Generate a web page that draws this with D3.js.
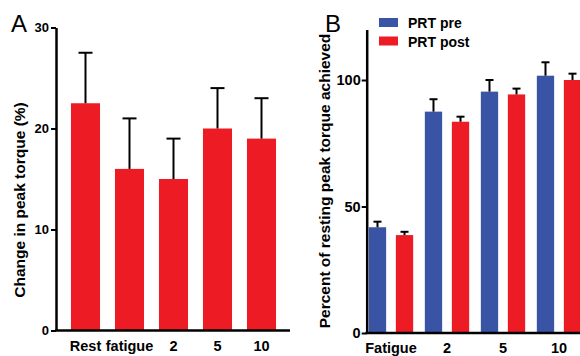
<!DOCTYPE html>
<html>
<head>
<meta charset="utf-8">
<script src="https://cdn.jsdelivr.net/npm/d3@7"></script>
<style>
  body { margin: 0; background: #fff; }
  svg { display: block; font-family: "Liberation Sans", Arial, sans-serif; }
  .tick text { font-weight: bold; }
</style>
</head>
<body>
<div class="chart"></div>
<script>
// Panel A data
var catsA = ["Rest", "fatigue", "2", "5", "10"];
var meanA = [22.5, 16.0, 15.0, 20.0, 19.0];
var errA = [5.0, 5.0, 4.0, 4.0, 4.0];
var ticksA = [0, 10, 20, 30];

// Panel B data
var catsB = ["Fatigue", "2", "5", "10"];
var seriesB = ["PRT pre", "PRT post"];
var preB = [41.8, 87.5, 95.4, 101.7];
var preErrB = [2.2, 4.9, 4.6, 5.3];
var postB = [38.7, 83.5, 94.3, 100.0];
var postErrB = [1.3, 2.0, 2.3, 2.5];
var ticksB = [0, 50, 100];

var red = "#ed1c24";
var blue = "#3a54a5";

var svg = d3.select(".chart")
    .append("svg")
    .attr("width", 580)
    .attr("height", 356);

// ---------- Panel A ----------
var gA = svg.append("g");

var xA = d3.scaleBand()
    .domain(catsA)
    .range([63.5, 283.5])
    .paddingInner(0.34)
    .paddingOuter(0.17);

var yA = d3.scaleLinear()
    .domain([0, 30])
    .range([330.5, 27.5]);

gA.selectAll("rect.bar")
    .data(catsA)
    .enter()
    .append("rect")
    .attr("class", "bar")
    .attr("x", function(d) { return xA(d); })
    .attr("width", xA.bandwidth())
    .attr("y", function(d, i) { return yA(meanA[i]); })
    .attr("height", function(d, i) { return yA(0) - yA(meanA[i]); })
    .attr("fill", red);

// error bars A
gA.selectAll("line.err")
    .data(catsA)
    .enter()
    .append("line")
    .attr("class", "err")
    .attr("x1", function(d) { return xA(d) + xA.bandwidth() / 2; })
    .attr("x2", function(d) { return xA(d) + xA.bandwidth() / 2; })
    .attr("y1", function(d, i) { return yA(meanA[i]); })
    .attr("y2", function(d, i) { return yA(meanA[i] + errA[i]); })
    .attr("stroke", "#000")
    .attr("stroke-width", 2);

gA.selectAll("line.cap")
    .data(catsA)
    .enter()
    .append("line")
    .attr("class", "cap")
    .attr("x1", function(d) { return xA(d) + xA.bandwidth() / 2 - 7; })
    .attr("x2", function(d) { return xA(d) + xA.bandwidth() / 2 + 7; })
    .attr("y1", function(d, i) { return yA(meanA[i] + errA[i]); })
    .attr("y2", function(d, i) { return yA(meanA[i] + errA[i]); })
    .attr("stroke", "#000")
    .attr("stroke-width", 2);

var leftA = gA.append("g")
    .attr("transform", "translate(56,0)")
    .call(d3.axisLeft(yA).tickValues(ticksA).tickSize(5).tickSizeOuter(0).tickPadding(2));

leftA.select(".domain").attr("stroke-width", 2.5);
leftA.selectAll(".tick line").attr("stroke-width", 2);
leftA.selectAll(".tick text").attr("font-size", "13px").attr("fill", "#000");

// x-axis A
gA.append("line")
    .attr("x1", 55)
    .attr("x2", 290)
    .attr("y1", yA(0))
    .attr("y2", yA(0))
    .attr("stroke", "#000")
    .attr("stroke-width", 2.5);

gA.selectAll("text.xlab")
    .data(catsA)
    .enter()
    .append("text")
    .attr("class", "xlab")
    .attr("x", function(d) { return xA(d) + xA.bandwidth() / 2; })
    .attr("y", 351)
    .attr("text-anchor", "middle")
    .attr("font-size", "14.5px")
    .attr("font-weight", "bold")
    .text(function(d) { return d; });

gA.append("text")
    .attr("transform", "translate(25,200) rotate(-90)")
    .attr("text-anchor", "middle")
    .attr("font-size", "15.5px")
    .attr("font-weight", "bold")
    .text("Change in peak torque (%)");

gA.append("text")
    .attr("x", 11)
    .attr("y", 32)
    .attr("font-size", "24px")
    .text("A");

// ---------- Panel B ----------
var gB = svg.append("g");

var xB = d3.scaleBand()
    .domain(catsB)
    .range([363, 587])
    .paddingInner(0.17)
    .paddingOuter(0.085);

var xSub = d3.scaleBand()
    .domain(seriesB)
    .range([0, xB.bandwidth()])
    .paddingInner(0.36)
    .paddingOuter(0.04);

var yB = d3.scaleLinear()
    .domain([0, 120])
    .range([333, 29.4]);

var rowsB = catsB.map(function(c, i) {
    return [
        { cat: c, s: seriesB[0], v: preB[i], e: preErrB[i], color: blue },
        { cat: c, s: seriesB[1], v: postB[i], e: postErrB[i], color: red }
    ];
});
var flatB = d3.merge(rowsB);

gB.selectAll("rect.bar")
    .data(flatB)
    .enter()
    .append("rect")
    .attr("class", "bar")
    .attr("x", function(d) { return xB(d.cat) + xSub(d.s); })
    .attr("width", xSub.bandwidth())
    .attr("y", function(d) { return yB(d.v); })
    .attr("height", function(d) { return yB(0) - yB(d.v); })
    .attr("fill", function(d) { return d.color; });

gB.selectAll("line.err")
    .data(flatB)
    .enter()
    .append("line")
    .attr("class", "err")
    .attr("x1", function(d) { return xB(d.cat) + xSub(d.s) + xSub.bandwidth() / 2; })
    .attr("x2", function(d) { return xB(d.cat) + xSub(d.s) + xSub.bandwidth() / 2; })
    .attr("y1", function(d) { return yB(d.v); })
    .attr("y2", function(d) { return yB(d.v + d.e); })
    .attr("stroke", "#000")
    .attr("stroke-width", 2);

gB.selectAll("line.cap")
    .data(flatB)
    .enter()
    .append("line")
    .attr("class", "cap")
    .attr("x1", function(d) { return xB(d.cat) + xSub(d.s) + xSub.bandwidth() / 2 - 4; })
    .attr("x2", function(d) { return xB(d.cat) + xSub(d.s) + xSub.bandwidth() / 2 + 4; })
    .attr("y1", function(d) { return yB(d.v + d.e); })
    .attr("y2", function(d) { return yB(d.v + d.e); })
    .attr("stroke", "#000")
    .attr("stroke-width", 2);

var leftB = gB.append("g")
    .attr("transform", "translate(366.7,0)")
    .call(d3.axisLeft(yB).tickValues(ticksB).tickSize(5).tickSizeOuter(0).tickPadding(1));

leftB.select(".domain").attr("stroke-width", 2.5);
leftB.selectAll(".tick line").attr("stroke-width", 2);
leftB.selectAll(".tick text").attr("font-size", "14.5px").attr("fill", "#000");

gB.append("line")
    .attr("x1", 365.5)
    .attr("x2", 580)
    .attr("y1", yB(0))
    .attr("y2", yB(0))
    .attr("stroke", "#000")
    .attr("stroke-width", 2.5);

gB.selectAll("text.xlab")
    .data(catsB)
    .enter()
    .append("text")
    .attr("class", "xlab")
    .attr("x", function(d) { return xB(d) + xB.bandwidth() / 2; })
    .attr("y", 353)
    .attr("text-anchor", "middle")
    .attr("font-size", "14.5px")
    .attr("font-weight", "bold")
    .text(function(d) { return d; });

gB.append("text")
    .attr("transform", "translate(330,181) rotate(-90)")
    .attr("text-anchor", "middle")
    .attr("font-size", "15.5px")
    .attr("font-weight", "bold")
    .text("Percent of resting peak torque achieved");

gB.append("text")
    .attr("x", 325)
    .attr("y", 32)
    .attr("font-size", "24px")
    .text("B");

// legend
var legend = gB.selectAll("g.legend")
    .data(seriesB)
    .enter()
    .append("g")
    .attr("class", "legend")
    .attr("transform", function(d, i) { return "translate(379," + (18 + i * 18.5) + ")"; });

legend.append("rect")
    .attr("width", 19)
    .attr("height", 9)
    .attr("fill", function(d, i) { return i === 0 ? blue : red; });

legend.append("text")
    .attr("x", 29)
    .attr("y", 10)
    .attr("font-size", "14px")
    .attr("font-weight", "bold")
    .text(function(d) { return d; });
</script>
</body>
</html>
